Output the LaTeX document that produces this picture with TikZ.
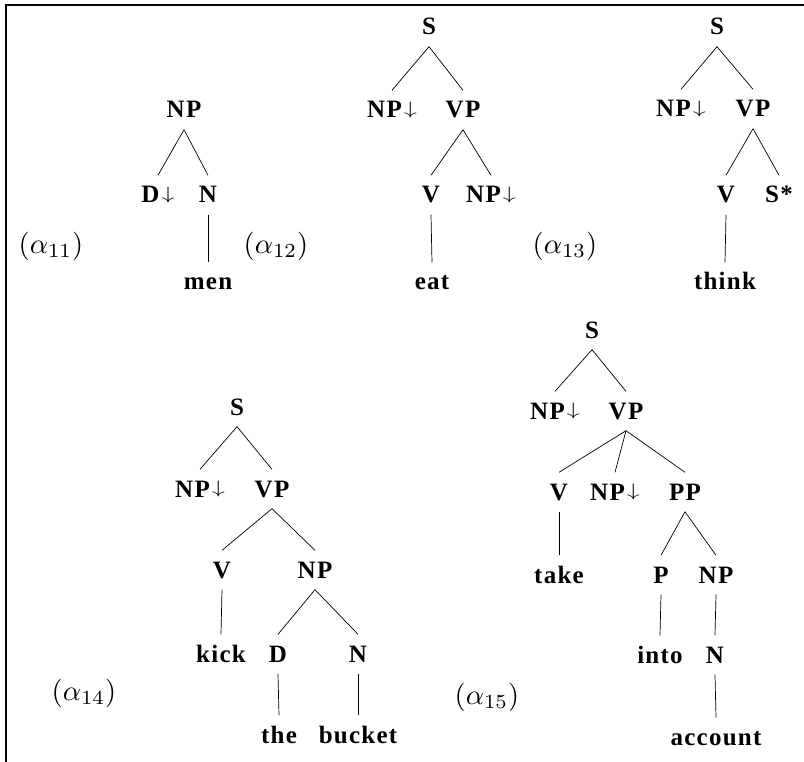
\documentclass[tikz,border=0pt]{standalone}
\usepackage{fontspec}
\setmainfont{Liberation Serif}[LetterSpace=5]
\newcommand\mydn{\hspace{2pt}\raisebox{3.5pt}{\fontsize{10}{12}\selectfont\scalebox{2.6}[1.8]{$\downarrow$}}}
\newcommand\alab[1]{\fontsize{10}{12}\selectfont\scalebox{2.85}{$(\alpha_{#1})$}}
\tikzset{
  cat/.style={font=\fontsize{25}{29}\selectfont\bfseries, text height=16pt, text depth=0pt,
              inner xsep=1pt, inner ysep=11.5pt, anchor=center},
  edge/.style={line width=0.7pt},
  lab/.style={inner sep=0pt, anchor=center},
  frame/.style={line width=2pt}
}
\begin{document}
\begin{tikzpicture}[x=1pt,y=-1pt]
\useasboundingbox (0,0) rectangle (804,762);
\coordinate (fb) at (6,762);
\coordinate (ftl) at (6,5);
\coordinate (ftr) at (804,5);
\draw[frame] (fb) -- (ftl) -- (ftr);

% alpha 11
\node[cat] (a1) at (184,110) {NP};
\node[cat] (a1d) at (158,195) {D\mydn};
\node[cat] (a1n) at (208,195) {N};
\node[cat] (a1w) at (208,282) {men};
\draw[edge] (a1.south) -- (a1d.north);
\draw[edge] (a1.south) -- (a1n.north);
\draw[edge] (a1n.south) -- (a1w.north);

% alpha 12
\node[cat] (b1) at (429,27) {S};
\node[cat] (b1np) at (392,110) {NP\mydn};
\node[cat] (b1vp) at (463,110) {VP};
\node[cat] (b1v) at (431,195) {V};
\node[cat] (b1o) at (491,195) {NP\mydn};
\node[cat] (b1w) at (432,282) {eat};
\draw[edge] (b1.south) -- (b1np.north);
\draw[edge] (b1.south) -- (b1vp.north);
\draw[edge] (b1vp.south) -- (b1v.north);
\draw[edge] (b1vp.south) -- (b1o.north);
\draw[edge] (b1v.south) -- (b1w.north);

% alpha 13
\node[cat] (c1) at (717,27) {S};
\node[cat] (c1np) at (681,109) {NP\mydn};
\node[cat] (c1vp) at (753,109) {VP};
\node[cat] (c1v) at (726,195) {V};
\node[cat] (c1s) at (779,195) {S*};
\node[cat] (c1w) at (725,282) {think};
\draw[edge] (c1.south) -- (c1np.north);
\draw[edge] (c1.south) -- (c1vp.north);
\draw[edge] (c1vp.south) -- (c1v.north);
\draw[edge] (c1vp.south) -- (c1s.north);
\draw[edge] (c1v.south) -- (c1w.north);

% alpha 14
\node[cat] (d1) at (237,407) {S};
\node[cat] (d1np) at (200,489) {NP\mydn};
\node[cat] (d1vp) at (272,489) {VP};
\node[cat] (d1v) at (222,570) {V};
\node[cat] (d1o) at (315,570) {NP};
\node[cat] (d1k) at (221,654) {kick};
\node[cat] (d1d) at (278,654) {D};
\node[cat] (d1n) at (358,654) {N};
\node[cat] (d1the) at (279,735) {the};
\node[cat] (d1b) at (358,735) {bucket};
\draw[edge] (d1.south) -- (d1np.north);
\draw[edge] (d1.south) -- (d1vp.north);
\draw[edge] (d1vp.south) -- (d1v.north);
\draw[edge] (d1vp.south) -- (d1o.north);
\draw[edge] (d1v.south) -- (d1k.north);
\draw[edge] (d1o.south) -- (d1d.north);
\draw[edge] (d1o.south) -- (d1n.north);
\draw[edge] (d1d.south) -- (d1the.north);
\draw[edge] (d1n.south) -- (d1b.north);

% alpha 15
\node[cat] (e1) at (592,330) {S};
\node[cat] (e1np) at (555,411) {NP\mydn};
\node[cat] (e1vp) at (626,411) {VP};
\node[cat] (e1v) at (559,492) {V};
\node[cat] (e1o) at (615,492) {NP\mydn};
\node[cat] (e1pp) at (685,492) {PP};
\node[cat] (e1take) at (559,575) {take};
\node[cat] (e1p) at (661,575) {P};
\node[cat] (e1pnp) at (716,575) {NP};
\node[cat] (e1into) at (660,655) {into};
\node[cat] (e1n) at (715,655) {N};
\node[cat] (e1acc) at (716,737) {account};
\draw[edge] (e1.south) -- (e1np.north);
\draw[edge] (e1.south) -- (e1vp.north);
\draw[edge] (e1vp.south) -- (e1v.north);
\draw[edge] (e1vp.south) -- (e1o.north);
\draw[edge] (e1vp.south) -- (e1pp.north);
\draw[edge] (e1v.south) -- (e1take.north);
\draw[edge] (e1pp.south) -- (e1p.north);
\draw[edge] (e1pp.south) -- (e1pnp.north);
\draw[edge] (e1p.south) -- (e1into.north);
\draw[edge] (e1pnp.south) -- (e1n.north);
\draw[edge] (e1n.south) -- (e1acc.north);

% labels
\node[lab] (l11) at (51,246) {\alab{11}};
\node[lab] (l12) at (276,246) {\alab{12}};
\node[lab] (l13) at (565,246) {\alab{13}};
\node[lab] (l14) at (84,693) {\alab{14}};
\node[lab] (l15) at (487,697) {\alab{15}};
\end{tikzpicture}
\end{document}
